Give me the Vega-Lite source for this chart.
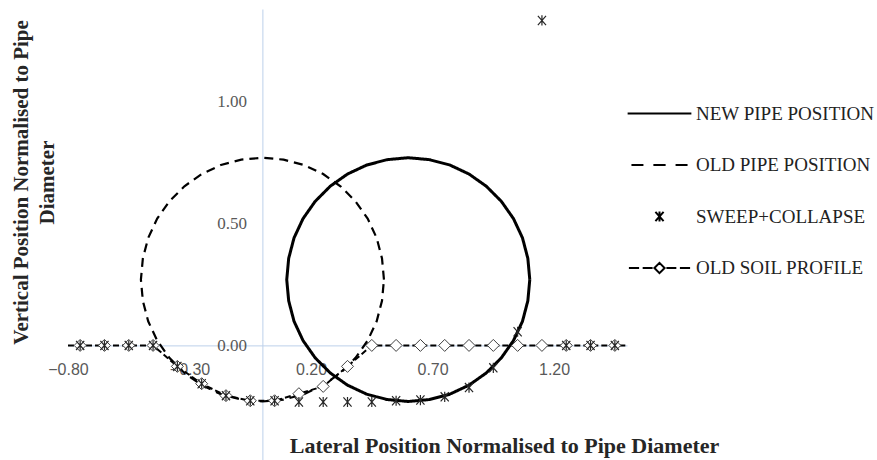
{
  "$schema": "https://vega.github.io/schema/vega-lite/v6.json",
  "autosize": {"type": "none"},
  "padding": {"left": 68, "top": 9, "right": 250, "bottom": 0},
  "width": 559,
  "height": 451,
  "background": "white",
  "config": {"view": {"stroke": null}},
  "datasets": {
    "circles": [
      {"pipe": "OLD PIPE POSITION", "i": 0, "x": 0.5, "y": 0.27},
      {"pipe": "OLD PIPE POSITION", "i": 1, "x": 0.492, "y": 0.357},
      {"pipe": "OLD PIPE POSITION", "i": 2, "x": 0.47, "y": 0.441},
      {"pipe": "OLD PIPE POSITION", "i": 3, "x": 0.433, "y": 0.52},
      {"pipe": "OLD PIPE POSITION", "i": 4, "x": 0.383, "y": 0.591},
      {"pipe": "OLD PIPE POSITION", "i": 5, "x": 0.321, "y": 0.653},
      {"pipe": "OLD PIPE POSITION", "i": 6, "x": 0.25, "y": 0.703},
      {"pipe": "OLD PIPE POSITION", "i": 7, "x": 0.171, "y": 0.74},
      {"pipe": "OLD PIPE POSITION", "i": 8, "x": 0.087, "y": 0.762},
      {"pipe": "OLD PIPE POSITION", "i": 9, "x": 0.0, "y": 0.77},
      {"pipe": "OLD PIPE POSITION", "i": 10, "x": -0.087, "y": 0.762},
      {"pipe": "OLD PIPE POSITION", "i": 11, "x": -0.171, "y": 0.74},
      {"pipe": "OLD PIPE POSITION", "i": 12, "x": -0.25, "y": 0.703},
      {"pipe": "OLD PIPE POSITION", "i": 13, "x": -0.321, "y": 0.653},
      {"pipe": "OLD PIPE POSITION", "i": 14, "x": -0.383, "y": 0.591},
      {"pipe": "OLD PIPE POSITION", "i": 15, "x": -0.433, "y": 0.52},
      {"pipe": "OLD PIPE POSITION", "i": 16, "x": -0.47, "y": 0.441},
      {"pipe": "OLD PIPE POSITION", "i": 17, "x": -0.492, "y": 0.357},
      {"pipe": "OLD PIPE POSITION", "i": 18, "x": -0.5, "y": 0.27},
      {"pipe": "OLD PIPE POSITION", "i": 19, "x": -0.492, "y": 0.183},
      {"pipe": "OLD PIPE POSITION", "i": 20, "x": -0.47, "y": 0.099},
      {"pipe": "OLD PIPE POSITION", "i": 21, "x": -0.433, "y": 0.02},
      {"pipe": "OLD PIPE POSITION", "i": 22, "x": -0.383, "y": -0.051},
      {"pipe": "OLD PIPE POSITION", "i": 23, "x": -0.321, "y": -0.113},
      {"pipe": "OLD PIPE POSITION", "i": 24, "x": -0.25, "y": -0.163},
      {"pipe": "OLD PIPE POSITION", "i": 25, "x": -0.171, "y": -0.2},
      {"pipe": "OLD PIPE POSITION", "i": 26, "x": -0.087, "y": -0.222},
      {"pipe": "OLD PIPE POSITION", "i": 27, "x": 0.0, "y": -0.23},
      {"pipe": "OLD PIPE POSITION", "i": 28, "x": 0.087, "y": -0.222},
      {"pipe": "OLD PIPE POSITION", "i": 29, "x": 0.171, "y": -0.2},
      {"pipe": "OLD PIPE POSITION", "i": 30, "x": 0.25, "y": -0.163},
      {"pipe": "OLD PIPE POSITION", "i": 31, "x": 0.321, "y": -0.113},
      {"pipe": "OLD PIPE POSITION", "i": 32, "x": 0.383, "y": -0.051},
      {"pipe": "OLD PIPE POSITION", "i": 33, "x": 0.433, "y": 0.02},
      {"pipe": "OLD PIPE POSITION", "i": 34, "x": 0.47, "y": 0.099},
      {"pipe": "OLD PIPE POSITION", "i": 35, "x": 0.492, "y": 0.183},
      {"pipe": "OLD PIPE POSITION", "i": 36, "x": 0.5, "y": 0.27},
      {"pipe": "NEW PIPE POSITION", "i": 0, "x": 1.1, "y": 0.27},
      {"pipe": "NEW PIPE POSITION", "i": 1, "x": 1.092, "y": 0.357},
      {"pipe": "NEW PIPE POSITION", "i": 2, "x": 1.07, "y": 0.441},
      {"pipe": "NEW PIPE POSITION", "i": 3, "x": 1.033, "y": 0.52},
      {"pipe": "NEW PIPE POSITION", "i": 4, "x": 0.983, "y": 0.591},
      {"pipe": "NEW PIPE POSITION", "i": 5, "x": 0.921, "y": 0.653},
      {"pipe": "NEW PIPE POSITION", "i": 6, "x": 0.85, "y": 0.703},
      {"pipe": "NEW PIPE POSITION", "i": 7, "x": 0.771, "y": 0.74},
      {"pipe": "NEW PIPE POSITION", "i": 8, "x": 0.687, "y": 0.762},
      {"pipe": "NEW PIPE POSITION", "i": 9, "x": 0.6, "y": 0.77},
      {"pipe": "NEW PIPE POSITION", "i": 10, "x": 0.513, "y": 0.762},
      {"pipe": "NEW PIPE POSITION", "i": 11, "x": 0.429, "y": 0.74},
      {"pipe": "NEW PIPE POSITION", "i": 12, "x": 0.35, "y": 0.703},
      {"pipe": "NEW PIPE POSITION", "i": 13, "x": 0.279, "y": 0.653},
      {"pipe": "NEW PIPE POSITION", "i": 14, "x": 0.217, "y": 0.591},
      {"pipe": "NEW PIPE POSITION", "i": 15, "x": 0.167, "y": 0.52},
      {"pipe": "NEW PIPE POSITION", "i": 16, "x": 0.13, "y": 0.441},
      {"pipe": "NEW PIPE POSITION", "i": 17, "x": 0.108, "y": 0.357},
      {"pipe": "NEW PIPE POSITION", "i": 18, "x": 0.1, "y": 0.27},
      {"pipe": "NEW PIPE POSITION", "i": 19, "x": 0.108, "y": 0.183},
      {"pipe": "NEW PIPE POSITION", "i": 20, "x": 0.13, "y": 0.099},
      {"pipe": "NEW PIPE POSITION", "i": 21, "x": 0.167, "y": 0.02},
      {"pipe": "NEW PIPE POSITION", "i": 22, "x": 0.217, "y": -0.051},
      {"pipe": "NEW PIPE POSITION", "i": 23, "x": 0.279, "y": -0.113},
      {"pipe": "NEW PIPE POSITION", "i": 24, "x": 0.35, "y": -0.163},
      {"pipe": "NEW PIPE POSITION", "i": 25, "x": 0.429, "y": -0.2},
      {"pipe": "NEW PIPE POSITION", "i": 26, "x": 0.513, "y": -0.222},
      {"pipe": "NEW PIPE POSITION", "i": 27, "x": 0.6, "y": -0.23},
      {"pipe": "NEW PIPE POSITION", "i": 28, "x": 0.687, "y": -0.222},
      {"pipe": "NEW PIPE POSITION", "i": 29, "x": 0.771, "y": -0.2},
      {"pipe": "NEW PIPE POSITION", "i": 30, "x": 0.85, "y": -0.163},
      {"pipe": "NEW PIPE POSITION", "i": 31, "x": 0.921, "y": -0.113},
      {"pipe": "NEW PIPE POSITION", "i": 32, "x": 0.983, "y": -0.051},
      {"pipe": "NEW PIPE POSITION", "i": 33, "x": 1.033, "y": 0.02},
      {"pipe": "NEW PIPE POSITION", "i": 34, "x": 1.07, "y": 0.099},
      {"pipe": "NEW PIPE POSITION", "i": 35, "x": 1.092, "y": 0.183},
      {"pipe": "NEW PIPE POSITION", "i": 36, "x": 1.1, "y": 0.27}
    ],
    "soil": [
      {"x": -0.8, "y": 0},
      {"x": -0.75, "y": 0},
      {"x": -0.65, "y": 0},
      {"x": -0.55, "y": 0},
      {"x": -0.45, "y": 0},
      {"x": -0.35, "y": -0.086},
      {"x": -0.25, "y": -0.157},
      {"x": -0.15, "y": -0.206},
      {"x": -0.05, "y": -0.227},
      {"x": 0.05, "y": -0.227},
      {"x": 0.15, "y": -0.198},
      {"x": 0.25, "y": -0.168},
      {"x": 0.35, "y": -0.086},
      {"x": 0.45, "y": 0},
      {"x": 0.55, "y": 0},
      {"x": 0.65, "y": 0},
      {"x": 0.75, "y": 0},
      {"x": 0.85, "y": 0},
      {"x": 0.95, "y": 0},
      {"x": 1.05, "y": 0},
      {"x": 1.15, "y": 0},
      {"x": 1.25, "y": 0},
      {"x": 1.35, "y": 0},
      {"x": 1.45, "y": 0},
      {"x": 1.5, "y": 0}
    ],
    "sweep": [
      {"series": "SWEEP+COLLAPSE", "x": -0.75, "y": 0},
      {"series": "SWEEP+COLLAPSE", "x": -0.65, "y": 0},
      {"series": "SWEEP+COLLAPSE", "x": -0.55, "y": 0},
      {"series": "SWEEP+COLLAPSE", "x": -0.45, "y": 0},
      {"series": "SWEEP+COLLAPSE", "x": -0.35, "y": -0.086},
      {"series": "SWEEP+COLLAPSE", "x": -0.25, "y": -0.157},
      {"series": "SWEEP+COLLAPSE", "x": -0.15, "y": -0.206},
      {"series": "SWEEP+COLLAPSE", "x": -0.05, "y": -0.227},
      {"series": "SWEEP+COLLAPSE", "x": 0.05, "y": -0.227},
      {"series": "SWEEP+COLLAPSE", "x": 0.15, "y": -0.232},
      {"series": "SWEEP+COLLAPSE", "x": 0.25, "y": -0.232},
      {"series": "SWEEP+COLLAPSE", "x": 0.35, "y": -0.232},
      {"series": "SWEEP+COLLAPSE", "x": 0.45, "y": -0.232},
      {"series": "SWEEP+COLLAPSE", "x": 0.55, "y": -0.227},
      {"series": "SWEEP+COLLAPSE", "x": 0.65, "y": -0.224},
      {"series": "SWEEP+COLLAPSE", "x": 0.75, "y": -0.211},
      {"series": "SWEEP+COLLAPSE", "x": 0.85, "y": -0.173},
      {"series": "SWEEP+COLLAPSE", "x": 0.95, "y": -0.092},
      {"series": "SWEEP+COLLAPSE", "x": 1.05, "y": 0.056},
      {"series": "SWEEP+COLLAPSE", "x": 1.15, "y": 1.333},
      {"series": "SWEEP+COLLAPSE", "x": 1.25, "y": 0},
      {"series": "SWEEP+COLLAPSE", "x": 1.35, "y": 0},
      {"series": "SWEEP+COLLAPSE", "x": 1.45, "y": 0}
    ]
  },
  "encoding": {
    "x": {
      "field": "x",
      "type": "quantitative",
      "scale": {"domain": [-0.8, 1.5], "nice": false, "zero": false},
      "axis": {
        "offset": -114.6,
        "values": [-0.8, -0.3, 0.2, 0.7, 1.2],
        "format": ".2f",
        "grid": false,
        "ticks": false,
        "domainColor": "#bcd0ea",
        "domainWidth": 1,
        "labelFont": "Liberation Sans",
        "labelFontSize": 16,
        "labelColor": "#595959",
        "labelPadding": 16,
        "labelFlush": false,
        "title": "Lateral Position Normalised  to Pipe Diameter",
        "titleFont": "Liberation Serif",
        "titleFontSize": 22,
        "titleFontWeight": "bold",
        "titleColor": "#262626",
        "titleX": 436,
        "titleY": 100,
        "titleAlign": "center",
        "titleBaseline": "middle",
        "titleAnchor": null
      }
    },
    "y": {
      "field": "y",
      "type": "quantitative",
      "scale": {"domain": [-0.47, 1.38], "nice": false, "zero": false},
      "axis": {
        "offset": -194.4,
        "values": [0, 0.5, 1],
        "format": ".2f",
        "grid": false,
        "ticks": false,
        "domainColor": "#bcd0ea",
        "domainWidth": 1,
        "labelFont": "Liberation Serif",
        "labelFontSize": 17,
        "labelColor": "#595959",
        "labelPadding": 16,
        "title": ["Vertical Position Normalised to Pipe", "Diameter"],
        "titleFont": "Liberation Serif",
        "titleFontSize": 21,
        "titleFontWeight": "bold",
        "titleColor": "#262626",
        "titleAngle": 270,
        "titleX": -241,
        "titleY": 173,
        "titleAlign": "center",
        "titleBaseline": "middle",
        "titleLineHeight": 26,
        "titleAnchor": null
      }
    }
  },
  "layer": [
    {
      "data": {"name": "circles"},
      "mark": {"type": "line", "color": "black", "clip": false},
      "encoding": {
        "detail": {"field": "pipe"},
        "order": {"field": "i", "type": "quantitative"},
        "strokeDash": {
          "field": "pipe",
          "scale": {"domain": ["NEW PIPE POSITION", "OLD PIPE POSITION"], "range": [[1, 0], [9, 6]]},
          "legend": null
        },
        "strokeWidth": {
          "field": "pipe",
          "type": "nominal",
          "scale": {"domain": ["NEW PIPE POSITION", "OLD PIPE POSITION"], "range": [3, 2.2]},
          "legend": null
        }
      }
    },
    {
      "data": {"name": "soil"},
      "mark": {"type": "line", "color": "black", "strokeWidth": 2, "strokeDash": [6, 3]},
      "encoding": {}
    },
    {
      "data": {"name": "soil"},
      "transform": [{"filter": "datum.x > -0.79 && datum.x < 1.49"}],
      "mark": {"type": "point", "shape": "diamond", "filled": true, "fill": "white", "stroke": "#404040", "strokeWidth": 1, "size": 144, "opacity": 1},
      "encoding": {}
    },
    {
      "data": {"name": "sweep"},
      "mark": {"type": "point", "filled": false, "stroke": "#262626", "strokeWidth": 1.2, "size": 2601, "opacity": 1},
      "encoding": {
        "shape": {
          "field": "series",
          "type": "nominal",
          "scale": {
            "domain": ["NEW PIPE POSITION", "OLD PIPE POSITION", "SWEEP+COLLAPSE", "OLD SOIL PROFILE"],
            "range": [
              "M-1.25,0H1.25",
              "M-1.1,0H-0.63M-0.24,0H0.24M0.63,0H1.1",
              "M-0.16,-0.18L0.16,0.18M-0.16,0.18L0.16,-0.18M0,-0.2L0,0.2",
              "M-1.2,0H-0.8M-0.66,0H-0.27M0.27,0H0.66M0.8,0H1.2M0,-0.2L0.2,0L0,0.2L-0.2,0Z"
            ]
          },
          "legend": {
            "title": null,
            "orient": "none",
            "legendX": 565,
            "legendY": 78,
            "padding": 0,
            "rowPadding": 14.5,
            "symbolSize": 2601,
            "symbolStrokeColor": "black",
            "symbolFillColor": "transparent",
            "symbolStrokeWidth": 2,
            "labelFont": "Liberation Serif",
            "labelFontSize": 19,
            "labelColor": "#222222",
            "labelOffset": 10,
            "labelLimit": 300,
            "encode": {
              "symbols": {
                "update": {
                  "strokeWidth": {"signal": "datum.value === 'NEW PIPE POSITION' ? 3 : datum.value === 'SWEEP+COLLAPSE' ? 1 : 2"},
                  "stroke": {"value": "black"},
                  "opacity": {"value": 1}
                }
              }
            }
          }
        }
      }
    }
  ]
}
